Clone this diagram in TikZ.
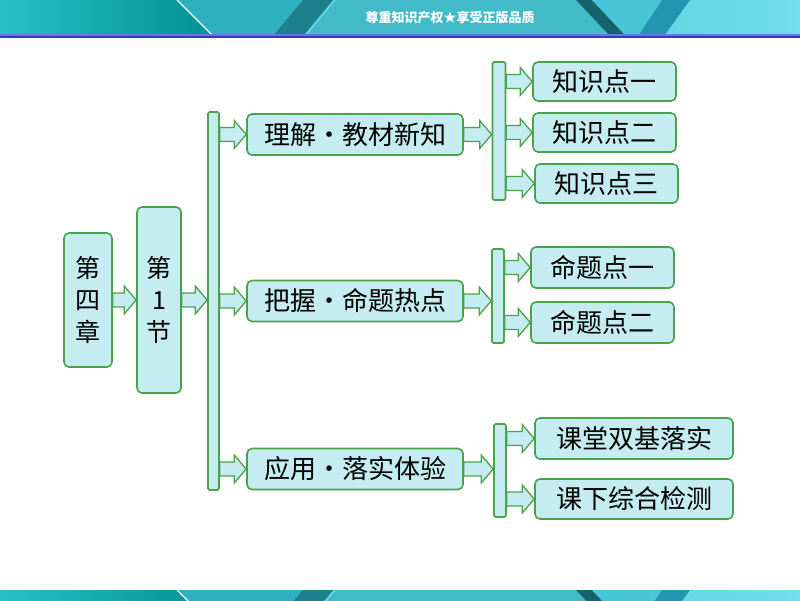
\documentclass[tikz,border=0pt]{standalone}
\usepackage{fontspec}
\setmainfont{Noto Sans CJK SC}
\usetikzlibrary{calc,positioning}

\definecolor{boxgreen}{RGB}{74,162,74}
\definecolor{water}{RGB}{196,236,241}
\definecolor{bannerblue}{RGB}{40,62,200}
\definecolor{tealA}{RGB}{30,185,190}
\definecolor{tealB}{RGB}{112,222,236}
\definecolor{tealC}{RGB}{40,192,198}
\definecolor{tealD}{RGB}{0,146,148}
\definecolor{tealE}{RGB}{46,176,192}
\definecolor{tealF}{RGB}{30,128,138}
\definecolor{tealG}{RGB}{66,186,200}
\definecolor{tealH}{RGB}{110,218,232}
\definecolor{tealI}{RGB}{20,100,110}
\definecolor{tealJ}{RGB}{72,198,216}
\definecolor{tealK}{RGB}{34,150,176}

% one fat arrow, drawn at the height of its first point
\newcommand{\fatarrow}[2]{%
  \draw[fat arrow] let \p1=#1, \p2=#2 in
    (\x1,\y1+7pt) -- (\x2-12pt,\y1+7pt) -- (\x2-12pt,\y1+14pt) -- (\x2,\y1)
    -- (\x2-12pt,\y1-14pt) -- (\x2-12pt,\y1-7pt) -- (\x1,\y1-7pt) -- cycle;}

% the striped band of the top and bottom strips
\newcommand{\bandbody}{%
  \fill[left color=tealA,right color=tealB] (0,0) rectangle (800,36);
  \fill[left color=tealC,right color=tealD] (0,0) -- (176,0) -- (212,36) -- (0,36) -- cycle;
  \fill[tealE] (178,0) -- (310,0) -- (280,36) -- (214,36) -- cycle;
  \draw[white,line width=1.2] (177,0) -- (213,36);
  \fill[tealF] (303,0) -- (333,0) -- (303,36) -- (273,36) -- cycle;
  \fill[tealG] (336,0) -- (576,0) -- (610,36) -- (306,36) -- cycle;
  \draw[tealH,line width=1.2] (335,0) -- (305,36);
  \fill[tealI] (576,0) -- (592,0) -- (626,36) -- (610,36) -- cycle;
  \fill[tealJ] (592,0) -- (662,0) -- (638,36) -- (626,36) -- cycle;
  \fill[tealK] (662,0) -- (690,0) -- (664,36) -- (638,36) -- cycle;}

\begin{document}
\begin{tikzpicture}[x=1pt,y=-1pt]
  \tikzstyle{every node}=[font=\fontsize{26}{32}\selectfont]
  \tikzstyle{unit box}=[rectangle,rounded corners=5pt,draw=boxgreen,line width=1.6pt,
                        fill=water,inner sep=0pt,align=center]
  \tikzstyle{bar}=[rectangle,rounded corners=1.5pt,draw=boxgreen,line width=1.6pt,
                   fill=water,inner sep=0pt,minimum width=11pt]
  \tikzstyle{fat arrow}=[draw=boxgreen,line width=1.3pt,fill=water,line join=miter]

  \useasboundingbox (0,0) rectangle (800,600);
  \fill[white] (0,0) rectangle (800,600);

  % top and bottom strips
  \bandbody
  \fill[bannerblue!70!white] (0,34) rectangle (800,35.5);
  \fill[bannerblue] (0,35.5) rectangle (800,38);
  \node[white,font=\fontsize{13}{13}\selectfont\bfseries] (banner) at (450,18) {尊重知识产权★享受正版品质};
  \begin{scope}[yshift=-590pt]
    \clip (0,0) rectangle (800,10);
    \bandbody
  \end{scope}

  % chapter and section
  \node[unit box,minimum width=48pt,minimum height=134pt,font=\fontsize{25}{32}\selectfont] (chap) at (88,300) {第\\四\\章};
  \node[unit box,minimum width=44pt,minimum height=186pt,font=\fontsize{25}{32}\selectfont] (sect) at (159,300) {第\\1\\节};
  \node[bar,minimum height=378pt] (bar1) at (213.5,301) {};

  \node[unit box,minimum width=216pt,minimum height=41pt] (learn) at (355,134.5) {理解·教材新知};
  \node[unit box,minimum width=216pt,minimum height=41pt] (grasp) at (355,301) {把握·命题热点};
  \node[unit box,minimum width=216pt,minimum height=41pt] (apply) at (355,469) {应用·落实体验};

  \node[bar,minimum width=13pt,minimum height=138pt] (bar2) at (499,131) {};
  \node[bar,minimum width=12pt,minimum height=94pt] (bar3) at (498,296) {};
  \node[bar,minimum width=12pt,minimum height=93pt] (bar4) at (500,470.5) {};

  \node[unit box,minimum width=143pt,minimum height=39pt] (know1) at (604.5,81.5) {知识点一};
  \node[unit box,minimum width=143pt,minimum height=39pt] (know2) at (604.5,132.5) {知识点二};
  \node[unit box,minimum width=143pt,minimum height=39pt] (know3) at (606.5,183.5) {知识点三};
  \node[unit box,minimum width=143pt,minimum height=41pt] (prop1) at (602.5,267.5) {命题点一};
  \node[unit box,minimum width=143pt,minimum height=41pt] (prop2) at (602.5,322.5) {命题点二};
  \node[unit box,minimum width=198pt,minimum height=41pt] (class) at (634,438.5) {课堂双基落实};
  \node[unit box,minimum width=198pt,minimum height=40pt] (after) at (634,499) {课下综合检测};

  % arrows
  \fatarrow{(chap.east)}{(sect.west)}
  \fatarrow{(sect.east)}{(bar1.west)}
  \fatarrow{(bar1.east |- learn)}{(learn.west)}
  \fatarrow{(bar1.east |- grasp)}{(grasp.west)}
  \fatarrow{(bar1.east |- apply)}{(apply.west)}
  \fatarrow{(learn.east)}{(bar2.west)}
  \fatarrow{(grasp.east)}{(bar3.west)}
  \fatarrow{(apply.east)}{(bar4.west)}
  \fatarrow{(bar2.east |- know1)}{(know1.west)}
  \fatarrow{(bar2.east |- know2)}{(know2.west)}
  \fatarrow{(bar2.east |- know3)}{(know3.west)}
  \fatarrow{(bar3.east |- prop1)}{(prop1.west)}
  \fatarrow{(bar3.east |- prop2)}{(prop2.west)}
  \fatarrow{(bar4.east |- class)}{(class.west)}
  \fatarrow{(bar4.east |- after)}{(after.west)}
\end{tikzpicture}
\end{document}
